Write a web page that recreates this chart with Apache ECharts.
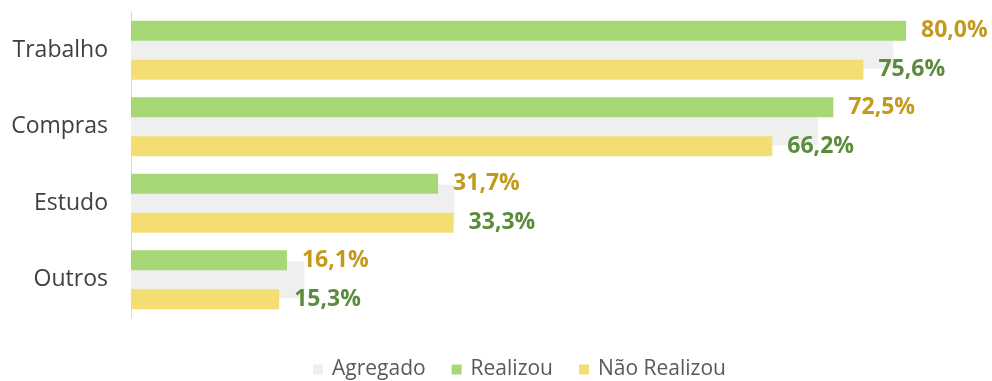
<!DOCTYPE html>
<html>
<head>
<meta charset="utf-8">
<script src="https://cdn.jsdelivr.net/npm/echarts@6.0.0/dist/echarts.min.js"></script>
<style>
  html, body { margin: 0; padding: 0; background: #ffffff; }
  #chart { width: 992px; height: 381px; }
</style>
</head>
<body>
<div id="chart"></div>
<script>
// Motivos de deslocamento (%)
const categories = ['Trabalho', 'Compras', 'Estudo', 'Outros'];
const agregado = [78.7, 70.9, 33.4, 17.9];
const realizou = [80.0, 72.5, 31.7, 16.1];
const naoRealizou = [75.6, 66.2, 33.3, 15.3];
const seriesNames = ['Agregado', 'Realizou', 'Não Realizou'];

const FONT = '"Open Sans", "Noto Sans", sans-serif';
const pct = v => v.toFixed(1).replace('.', ',') + '%';

const chart = echarts.init(document.getElementById('chart'), null, { renderer: 'canvas' });

chart.setOption({
  animation: false,
  backgroundColor: '#ffffff',
  textStyle: { fontFamily: FONT },
  grid: { left: 131, top: 12, width: 775, height: 306, containLabel: false },
  xAxis: {
    type: 'value',
    min: 0,
    max: 80,
    show: false
  },
  yAxis: [
    {
      type: 'category',
      data: categories,
      inverse: true,
      axisLine: { show: true, lineStyle: { color: '#d9d9d9', width: 1 } },
      axisTick: { show: false },
      axisLabel: { color: '#404040', fontSize: 23, fontFamily: FONT, margin: 23 }
    },
    {
      type: 'category',
      data: categories,
      inverse: true,
      show: false
    }
  ],
  legend: {
    data: seriesNames,
    left: 308,
    top: 354,
    itemWidth: 10,
    itemHeight: 10,
    itemGap: 26,
    icon: 'rect',
    textStyle: { color: '#595959', fontSize: 21, fontFamily: FONT, padding: [0, 0, 0, 4] }
  },
  series: [
    {
      name: seriesNames[0],
      type: 'bar',
      yAxisIndex: 1,
      data: agregado,
      barWidth: 37,
      z: 1,
      itemStyle: { color: '#efefef' }
    },
    {
      name: seriesNames[1],
      type: 'bar',
      yAxisIndex: 0,
      data: realizou,
      barWidth: 20,
      barGap: '95%',
      z: 3,
      itemStyle: { color: '#a6d876' },
      label: {
        show: true,
        position: 'right',
        distance: 15,
        formatter: p => pct(p.value),
        color: '#c49a1c',
        fontSize: 23,
        fontWeight: 'bold',
        fontFamily: FONT
      }
    },
    {
      name: seriesNames[2],
      type: 'bar',
      yAxisIndex: 0,
      data: naoRealizou,
      barWidth: 20,
      barGap: '95%',
      z: 3,
      itemStyle: { color: '#f4de72' },
      label: {
        show: true,
        position: 'right',
        distance: 15,
        formatter: p => pct(p.value),
        color: '#5a8c3c',
        fontSize: 23,
        fontWeight: 'bold',
        fontFamily: FONT
      }
    }
  ]
});
</script>
</body>
</html>
